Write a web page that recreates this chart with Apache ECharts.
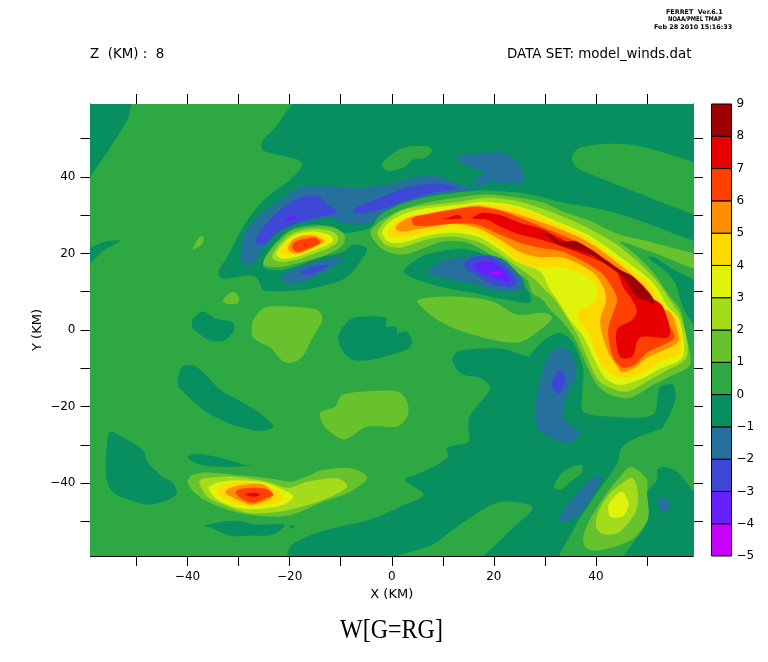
<!DOCTYPE html>
<html><head><meta charset="utf-8">
<style>html,body{margin:0;padding:0;background:#fff}#c{width:768px;height:662px}</style>
<script src="https://cdn.jsdelivr.net/npm/echarts@6/dist/echarts.min.js"></script>
</head><body><div id="c"></div>
<script>
// colour bar
const barLevels = [-5,-4,-3,-2,-1,0,1,2,3,4,5,6,7,8];
const barColors = ['#C800FF','#6420FF','#3F48D6','#25709D','#088F60','#2EA842','#68C22E','#A4DC1C','#DFF40A','#FFD900','#FF8F00','#FF4000','#E80000','#9D0000'];
const xTickValues = [-50,-40,-30,-20,-10,0,10,20,30,40,50];
const yTickValues = [-50,-40,-30,-20,-10,0,10,20,30,40,50];
const labelValues = [-40,-20,0,20,40];

// contour regions, read in km (X, Y); points past +-59 lie outside the plot and are clipped
const domain = [[-90,90],[90,90],[90,-90],[-90,-90]];
const darkNW = [[-65,65],[-50.5,62],[-51,59],[-51.6,55.4],[-53.7,50.5],[-57,44],[-62,36]];
const darkNorth = [[-17,61],[70,70],[70,20],[62,22],[48,28.8],[41.4,31.4],[33.6,33.2],[29.1,34.8],[25.1,35.8],[17.9,36.4],[12.8,35.9],[6.2,34.6],[0.3,32],[-2.8,29.4],[-3.8,27],[-6.8,25.7],[-9.5,25.4],[-11.4,27],[-16,27.5],[-19.9,26.2],[-22.8,22.8],[-24.8,18.9],[-25.1,16.3],[-21.2,15.7],[-14,18.9],[-9.5,20.4],[-7.5,22.3],[-5,21.5],[-5,20.2],[-8.7,13.9],[-14,11.3],[-18.5,10.3],[-25.1,10.3],[-25.7,11.8],[-26.7,13.9],[-29.1,14.1],[-33.2,13.4],[-34,15],[-32.2,19.1],[-29.1,27],[-26.3,32.2],[-23.4,35.8],[-19.9,39.2],[-17.5,43.1],[-18.5,44.5],[-25.1,46.8],[-25.5,48.9],[-23.2,52.3]];
const darkCentre = [[2.3,15.2],[4.2,17.8],[6.9,19.7],[13.4,21.2],[16.7,20.4],[19.9,18.4],[23.2,15],[25.7,11.8],[27.1,9.2],[27.1,7.1],[23.2,7.7],[19.3,8.7],[15.9,9.7],[9.5,11.3],[5,13.1]];
const darkSouth = [[-19.9,-62],[-19.9,-56.6],[-14,-52.7],[-4.2,-49.5],[1.7,-46.1],[6.2,-43],[2.6,-39.1],[6.2,-37],[10.9,-33.3],[10.9,-30.7],[15,-29.2],[15,-24.7],[15.2,-22.6],[19.3,-15.1],[17.3,-12.5],[14,-11.7],[12.4,-9.6],[11.9,-7.2],[13.4,-5.4],[21.6,-4.9],[26.7,-7],[27.1,-6.4],[30,-2.5],[33,-0.7],[35.5,-3.4],[37.5,-10.4],[37.3,-16.4],[37.5,-21.3],[42.2,-22.6],[51.2,-22.1],[52.5,-15.1],[55.1,-14.3],[55.5,-18.2],[53.1,-25.5],[52.2,-26],[46.1,-29.4],[44.7,-31.8],[44.3,-34.6],[42.8,-37.7],[40.2,-42.5],[35.9,-51.4],[32.5,-62],[43,-62],[47.3,-55.5],[50.2,-49.5],[50,-42.5],[52,-39.1],[52,-36.5],[53.1,-35.7],[55.9,-37],[58.8,-41.7],[62,-46],[70,-70]];
const darkEastWedge = [[50.2,18.9],[51.2,19.1],[54.5,16.3],[62,10],[62,-3],[57.8,4],[56.5,7.9],[55.7,11.8],[53.9,15]];
const darkSW1 = [[-55.1,-26.6],[-52.5,-28.1],[-48.8,-31.3],[-47.8,-34.6],[-44.9,-38.3],[-42.8,-39.9],[-42.2,-43],[-47.3,-45.6],[-52.5,-43.8],[-54.7,-42.2],[-55.9,-38.6],[-55.7,-28.6]];
const darkSW2 = [[-40,-33.1],[-38.1,-32.3],[-34.5,-33.1],[-30.6,-34.4],[-29.1,-35.2],[-27.1,-35.4],[-30.2,-35.7],[-34.1,-35.7],[-38.1,-34.9]];
const darkSW3 = [[-36.9,-51.1],[-31,-49.8],[-26.3,-50.8],[-21,-50.8],[-23.2,-53.4],[-27.7,-53.7],[-31.6,-53.7],[-35.5,-51.6]];
const darkSW4 = [[-20.1,-51.1],[-19.1,-51.1],[-19.3,-51.9]];
const darkLong = [[-41,-9.6],[-38.8,-9.3],[-36.9,-11.1],[-33.6,-15.6],[-30.2,-18.2],[-26.3,-21.3],[-23.2,-25.2],[-25.1,-26.3],[-27.7,-26],[-32.2,-24.2],[-36.1,-21.6],[-38.8,-18.7],[-40.8,-16.1],[-41.8,-14.8],[-41.8,-12.2]];
const darkWest = [[-39,2.7],[-37.1,4.8],[-34.5,3],[-31,1.9],[-31,-0.4],[-33,-2.8],[-35.5,-2.8],[-37.5,-1.2],[-39,0.6]];
const darkMid = [[-10.5,-2],[-9.5,0.9],[-7.5,3.2],[-1.1,3.2],[-1.1,0.9],[0.9,0.9],[1.1,-0.7],[3,-0.4],[4,-3.1],[3,-5.1],[-4.2,-7.8],[-7.5,-7.8],[-9.5,-5.7]];
const darkEdge = [[-62,19],[-56.7,22.8],[-53.1,23.3],[-56.1,21],[-62,14.4]];
const greenTop = [[-1.9,43.2],[-0.9,45],[2.3,47.6],[7.1,47.9],[7.9,46.8],[6.6,45],[4.2,44.5],[2.3,42.4],[-0.9,41.6]];
const greenRight = [[35.3,45.2],[36.9,47.6],[44.1,48.6],[51.2,47.1],[63,40.5],[63,29.5],[53.1,33.2],[48,35.9],[40.2,40],[36.3,42.4]];
const greenBottom = [[-3,-61],[8.1,-56],[12,-52.1],[20.6,-45.1],[27.1,-45.6],[27.5,-46.9],[25.1,-50],[14,-62]];
const greenSmall = [[31.8,-40.9],[33.6,-37],[37.1,-35.2],[37.3,-37],[35.5,-39.1],[33,-41.7]];
const lightA = [[-33,7.1],[-32.6,8.7],[-31,10],[-30,8.7],[-30.2,6.9]];
const lightB = [[-27.3,1.9],[-26.1,4.5],[-24.4,6.1],[-14.6,5.3],[-13.6,2.7],[-15.4,-1.7],[-17.3,-6.6],[-18.9,-8.3],[-21.2,-8.3],[-23.8,-4.6],[-27.1,-2]];
const lightC = [[-14,-21.6],[-11.1,-20],[-9.7,-16.9],[-0.9,-15.8],[1.7,-16.4],[3.2,-19.5],[3,-22.6],[1.1,-25.2],[-4.8,-25.2],[-9.1,-28.6],[-11.4,-27.3],[-13.4,-24.7]];
const lightD = [[-39,21],[-38.4,22.8],[-37.5,24.4],[-36.9,24.4],[-36.9,23.1],[-37.5,22]];
const lightE = [[5,7.4],[6.9,8.4],[13.4,8.7],[19.9,7.4],[24.6,4],[30,4.5],[31.4,3.2],[29.6,0.6],[24.6,-3.3],[15.8,-1.2],[9.5,2.2]];
const arc1 = [[-4.2,25.4],[-2.3,28.3],[1.1,30.9],[6.9,33.3],[12.8,34.6],[18.7,35.4],[24.6,34.6],[29.6,33.3],[33.6,30.9],[38.3,28.8],[44.7,24.9],[51.2,22.8],[63,18],[63,14.5],[51.2,20.2],[44.7,23.1],[47.3,20.2],[51.2,15],[54.5,8.7],[56.5,5.3],[57.6,-1.2],[58.4,-9.1],[53.9,-12.5],[51.2,-14.3],[46.7,-17.7],[42.8,-16.9],[40.2,-14.3],[37.9,-8.5],[35.9,-2.5],[33.6,1.9],[31,5.3],[29.5,7.9],[27.5,9.7],[26.5,13.1],[22.6,16.5],[18.7,20.2],[14.8,22.8],[10.1,23.1],[6.9,21.7],[2.3,19.7],[-1.7,21]];
const arc2 = [[-2.8,25.4],[-0.9,28.8],[2.3,31.4],[6.9,32.5],[13.4,33.5],[18.7,34.5],[25.1,33.5],[31.6,30.6],[38.3,26.7],[44.7,21.7],[51.2,13.9],[54.5,7.9],[56.8,2.7],[57.8,-7],[53.1,-11.1],[50.6,-13],[46.1,-16.1],[42.8,-15.1],[40.4,-13],[38.5,-7.8],[36.5,-1.7],[34.3,3.2],[32,7.9],[30,10.5],[28.1,13.1],[24.6,16.5],[20.6,20.2],[16.7,23.1],[11.4,24.4],[6.9,23.6],[1.7,21.5],[-1.3,22.3]];
const arc3 = [[-1.9,25.4],[-0.3,28.3],[3,30.6],[7.5,31.9],[13.4,32.7],[17.9,33.5],[25.1,32.2],[31.6,28.8],[38.3,24.9],[44.7,19.1],[51.2,12.3],[54.1,6.1],[56.3,2.7],[57,-7],[52.2,-10.4],[49.3,-12.5],[44.7,-14.3],[41.8,-12.5],[39.4,-7],[37.5,-1.7],[34.9,2.7],[32.4,7.9],[30.8,11],[29.1,15.2],[24.6,17.8],[20.6,21.5],[16.7,24.4],[11.4,25.4],[6.9,24.6],[2.1,22.8],[-0.7,23.1]];
const arc4 = [[-0.9,25.4],[0.7,28],[3.6,29.8],[8.1,30.9],[13.4,32.2],[17.3,32.7],[25.1,31.7],[31.6,28],[38.3,24.1],[44.7,17.8],[50.6,11.8],[53.1,6.1],[55.9,2.7],[56.5,-5.9],[52.5,-8.3],[49.3,-10.9],[46.1,-12.5],[43.3,-11.7],[40.8,-8.5],[38.8,-1.7],[36.5,3.2],[36.5,4.8],[39.6,7.1],[40.2,11],[38.3,13.9],[33.6,16.3],[28.5,16.3],[25.1,17.8],[20.6,22.8],[16.7,25.4],[12,26.7],[7.5,25.7],[3.6,24.4],[0.3,24.1]];
const arc5 = [[0.7,26.7],[1.9,28.3],[4,29.6],[8.5,30.6],[13.4,31.9],[16.7,32.5],[20.3,31.7],[25.1,30],[31.6,27],[38.3,23.1],[44.7,17],[49.6,11.3],[52.5,6.1],[54.5,4.8],[55.5,1.9],[56.1,-3.1],[52.5,-5.7],[49.3,-7.8],[47.7,-9.8],[45.1,-11.1],[44.3,-9.8],[42.4,-5.9],[40.8,2.2],[42,7.9],[41.4,11.3],[39.4,15],[33.6,18.9],[28.5,19.1],[25.1,20.4],[20.6,24.1],[16.7,26.7],[12,27.8],[8.1,27],[4.6,26.2],[1.7,25.7]];
const arc6 = [[4,29.1],[7.5,30.4],[13.4,31.7],[16.7,32.2],[21.2,31.2],[25.1,29.3],[31.6,25.7],[38.3,21.7],[44.7,15.7],[48.6,10.5],[51,6.1],[53.5,2.7],[55.3,-2],[50,-5.9],[47.7,-9],[45.1,-9.8],[43.3,-7],[42.4,0.1],[44.1,7.9],[43.1,11.3],[40.8,15.2],[33.6,20.4],[29.1,21.5],[25.1,22.8],[21.2,24.9],[16.7,27.5],[12.8,27.8],[4.6,27.2]];
const arc7 = [[15.8,29.1],[17.7,30.6],[21.2,30],[25.1,28],[29.1,26.5],[31.6,24.9],[38.3,20],[44.7,15],[50.6,8.7],[53.1,6.1],[54.3,-1.7],[48.6,-2],[47.1,-7],[44.7,-7],[44.1,0.1],[47.1,2.7],[48,4.8],[47.1,7.9],[45.3,11.3],[44.1,15],[41.4,17.6],[33.6,21.7],[29.1,23.6],[25.1,24.9],[21.2,27],[18.7,28.8]];
const arc7b = [[5.8,29.1],[10.5,29.1],[13,30.1],[13.8,29.1]];
const arc8 = [[28.9,24.9],[31,24.9],[33,23.1],[36.3,23.1],[44.7,15.7],[47.3,13.9],[51,8.7],[51.2,6.6],[50.4,7.4],[48,8.7],[45.3,13.9],[44.1,15.2],[38.8,19.7],[34.9,21.5],[32.4,22.3],[30.6,24.4]];
const blueBand2 = [[-29.6,20.2],[-28.7,25.4],[-26.1,29.6],[-21.8,34],[-17.3,37.4],[-8.7,37.2],[-6.2,36.9],[-0.9,37.9],[5,40],[7.1,40.5],[9.5,40],[13.4,37.9],[16.7,36.9],[12.8,36.1],[6.9,34.8],[2.3,33.2],[-1.7,30.6],[-4.2,28],[-6.8,27.5],[-9.5,28],[-12.6,29.3],[-16,28.3],[-19.9,27.5],[-23.4,24.1],[-25.7,20.2],[-27.1,17.6],[-28.7,17.1],[-29.6,18.4]];
const blueBand3a = [[-26.7,23.1],[-25.1,27],[-21.8,31.4],[-17.9,34.5],[-14.6,35.1],[-12.6,32.7],[-10.7,30.9],[-14.6,29.3],[-19.3,27.5],[-22.4,25.4],[-25.1,22.3]];
const blueBand4 = [[-21,28.8],[-19.3,29.8],[-18.7,29.1],[-20.3,28.5]];
const blueBand3b = [[-7.7,30.9],[-6.2,32.5],[-3.6,33.8],[-0.9,35.3],[3.6,37.4],[9.5,38.2],[13,36.9],[8.1,35.9],[2.3,33.5],[-2.3,31.4],[-6.2,30.4]];
const blueNE = [[12.8,45],[14.8,45.8],[21.8,46.3],[24.6,43.9],[25.7,41.3],[25.7,38.5],[18.7,38.5],[16.9,37.4],[16.3,39.2],[18.3,41.1],[15.4,42.6]];
const blueUnder2 = [[-21.8,13.9],[-20.3,15.2],[-16,17.6],[-9.5,19.1],[-10.1,17.8],[-13.4,15],[-17.9,12.3],[-21.2,12.6]];
const blueUnder3 = [[-17.9,15],[-15.9,16.3],[-12.4,17],[-14.6,15.2],[-16.5,14.4]];
const coreMinus2 = [[7.1,15],[9.5,17.8],[14,18.9],[17.9,19.7],[21.8,18.4],[25.7,13.1],[25.7,10.8],[21.2,10],[16.7,11.8],[9.5,13.9]];
const coreMinus3 = [[14.4,17.8],[16.3,19.1],[19.3,19.1],[22.6,16.3],[24.6,12.6],[23.6,11.3],[19.9,11.8],[15.9,15],[14.4,16.3]];
const coreMinus4 = [[16.3,17],[18.7,18.1],[21.2,16.5],[23.2,13.7],[22.8,12.4],[19.9,13.7],[17.3,15]];
const coreMinus5 = [[19.3,15],[20.6,15.5],[21.6,15],[20.3,14.4]];
const blueSouth2 = [[28.1,-21.6],[28.5,-16.4],[30.6,-7.2],[33,-4.6],[35.3,-6.4],[35.9,-12.2],[34,-18.2],[33.6,-22.9],[36.3,-26],[37.1,-26.8],[34.9,-29.4],[33.4,-29.4],[28.7,-26]];
const blueSouth3 = [[31.4,-13.8],[32.8,-10.4],[34,-12.5],[33.6,-15.1],[32.8,-16.6],[31.6,-15.6]];
const blueStreak = [[32.8,-49.5],[34.9,-44.8],[38.8,-39.1],[40.8,-38],[40.8,-39.6],[37.5,-46.9],[34.9,-49.8]];
const blueDiamond = [[52,-45.1],[53.1,-43.8],[54.5,-45.4],[53.9,-47.4],[52.9,-47.4]];
const seHot1 = [[37.5,-54],[38.8,-49.5],[42.2,-42.5],[44.7,-38.3],[46.7,-35.7],[48.6,-37],[50,-39.1],[50,-42.5],[50.2,-49],[47.7,-54],[44.7,-56.1],[39.8,-57.6],[37.9,-56.6]];
const seHot2 = [[40,-51.4],[40.4,-47.7],[42.8,-42.5],[45.3,-39.9],[47.1,-38.6],[48,-40.9],[48.2,-44.3],[47.7,-47.7],[44.7,-52.7],[42.8,-53.4],[41.2,-53.2]];
const seHot3 = [[42.4,-46.1],[43.1,-44.3],[45.1,-42.2],[46.3,-44.8],[46.3,-46.4],[45.1,-48.7],[42.8,-48.7]];
const swHot1 = [[-40,-39.6],[-39,-37.8],[-36.1,-37.2],[-31,-37.8],[-23.8,-38.8],[-19.9,-39.6],[-17.3,-38.6],[-13.4,-36.5],[-7.5,-36.2],[-4.8,-38.6],[-8.1,-42.2],[-13.4,-44.8],[-20.4,-48.5],[-27.7,-48.2],[-32.2,-46.9],[-36.1,-44.8],[-38.8,-42.2]];
const swHot2 = [[-37.7,-39.9],[-36.9,-38.8],[-31,-38.3],[-24.4,-39.6],[-20.4,-41.2],[-16.5,-39.6],[-10.5,-38.8],[-8.7,-40.9],[-13.4,-44.3],[-19.9,-46.9],[-23.8,-47.7],[-28.3,-47.7],[-32.9,-45.6],[-36.1,-43.5]];
const swHot3 = [[-35.9,-41.2],[-34.1,-39.9],[-31,-39.3],[-25.7,-39.6],[-21.2,-41.7],[-19.3,-43.5],[-21.2,-45.6],[-26.3,-46.7],[-30.2,-46.4],[-34.1,-44.3]];
const swHot4 = [[-34.3,-42],[-32.2,-40.1],[-26.3,-39.9],[-22.4,-42],[-21.2,-43.8],[-22.4,-45.1],[-27.7,-46.1],[-31,-45.1],[-33.2,-43.8]];
const swHot5 = [[-32.6,-42.5],[-31.6,-41.2],[-29.1,-40.4],[-25.1,-40.4],[-23.2,-43],[-25.1,-44.8],[-27.7,-45.6],[-31,-43.8]];
const swHot6 = [[-30.6,-42.5],[-29.3,-41.4],[-24.8,-41.4],[-23.2,-43],[-24.8,-44],[-27.1,-45.1],[-28.7,-44.6]];
const swHot7 = [[-28.7,-43],[-27.1,-42.5],[-25.7,-43],[-27.1,-43.5]];
const nwHot1 = [[-25.1,17],[-24.8,18.9],[-22.8,22.3],[-19.9,25.7],[-15.4,27],[-11.4,26.7],[-9.3,24.9],[-9.5,22.3],[-12.6,19.7],[-17.9,17.6],[-21.2,16.5],[-23.8,16.5]];
const nwHot2 = [[-23.4,18.9],[-22.4,21.7],[-19.5,25.1],[-15.4,26.4],[-11.6,25.7],[-10.5,24.1],[-11.1,22.3],[-14.6,20.2],[-18.5,18.4],[-21.8,17.8]];
const nwHot3 = [[-22.6,19.7],[-21.4,22.3],[-18.9,24.9],[-15.4,25.7],[-12.4,24.9],[-11.4,23.6],[-12.4,22.3],[-15.4,20.7],[-19.3,18.9],[-21.4,18.6]];
const nwHot4 = [[-21.8,20.4],[-20.8,22.3],[-18.5,24.4],[-15.4,25.1],[-13,24.1],[-12.4,23.3],[-15.4,21.5],[-18.5,19.7],[-21.2,19.7]];
const nwHot5 = [[-20.3,21.5],[-19.3,23.6],[-17.3,24.6],[-15,24.6],[-13.4,23.1],[-15.9,21.2],[-18.5,19.9],[-19.9,20.4]];
const nwHot6 = [[-19.5,21.5],[-18.9,23.1],[-15,24.1],[-14,22.8],[-16.5,21.2],[-18.5,20.4]];
const nwHot7 = [[-17.3,22.3],[-16.6,22.3],[-17,22]];

// painter's order: [lower contour level, region]
const regions = [
 [0,domain],[-1,darkNW],[-1,darkNorth],[-1,darkCentre],[-1,darkSouth],[-1,darkEastWedge],
 [-1,darkSW1],[-1,darkSW2],[-1,darkSW3],[-1,darkSW4],[-1,darkLong],[-1,darkWest],[-1,darkMid],[-1,darkEdge],
 [0,greenTop],[0,greenRight],[0,greenBottom],[0,greenSmall],
 [1,lightA],[1,lightB],[1,lightC],[1,lightD],[1,lightE],
 [1,arc1],[2,arc2],[3,arc3],[4,arc4],[5,arc5],[6,arc6],[7,arc7],[7,arc7b],[8,arc8],
 [-2,blueBand2],[-3,blueBand3a],[-4,blueBand4],[-3,blueBand3b],[-2,blueNE],[-2,blueUnder2],[-3,blueUnder3],
 [-2,coreMinus2],[-3,coreMinus3],[-4,coreMinus4],[-5,coreMinus5],
 [-2,blueSouth2],[-3,blueSouth3],[-2,blueStreak],[-2,blueDiamond],
 [1,seHot1],[2,seHot2],[3,seHot3],
 [1,swHot1],[2,swHot2],[3,swHot3],[4,swHot4],[5,swHot5],[6,swHot6],[7,swHot7],
 [1,nwHot1],[2,nwHot2],[3,nwHot3],[4,nwHot4],[5,nwHot5],[6,nwHot6],[7,nwHot7]
];

const FONT = 'DejaVu Sans';
const fmt = v => String(v).replace('-', '\u2212');
const colorOf = l => barColors[barLevels.indexOf(l)];
const line = {show:true,onZero:false,lineStyle:{color:'#000',width:1}};
const tick = vals => ({show:true,length:10,inside:false,customValues:vals,lineStyle:{color:'#000',width:1}});

const chart = echarts.init(document.getElementById('c'),null,{renderer:'canvas'});
chart.setOption({
 animation:false,
 backgroundColor:'#fff',
 grid:[
  {left:90.5,top:104,width:602.5,height:452,containLabel:false},
  {left:711.5,top:104,width:20,height:452}
 ],
 xAxis:[
  {gridIndex:0,type:'value',min:-59,max:59,position:'bottom',axisLine:line,splitLine:{show:false},axisTick:tick(xTickValues),
   axisLabel:{show:true,customValues:labelValues,formatter:fmt,margin:15,color:'#000',fontFamily:FONT,fontSize:12},
   name:'X (KM)',nameLocation:'middle',nameGap:32,nameMoveOverlap:false,nameTextStyle:{color:'#000',fontFamily:FONT,fontSize:13}},
  {gridIndex:0,type:'value',min:-59,max:59,position:'top',axisLine:line,splitLine:{show:false},axisTick:tick(xTickValues),axisLabel:{show:false}},
  {gridIndex:1,type:'value',min:0,max:1,show:false}
 ],
 yAxis:[
  {gridIndex:0,type:'value',min:-59,max:59,position:'left',axisLine:line,splitLine:{show:false},axisTick:tick(yTickValues),
   axisLabel:{show:true,customValues:labelValues,formatter:fmt,margin:15,color:'#000',fontFamily:FONT,fontSize:12},
   name:'Y (KM)',nameLocation:'middle',nameGap:46,nameRotate:90,nameMoveOverlap:false,nameTextStyle:{color:'#000',fontFamily:FONT,fontSize:13}},
  {gridIndex:0,type:'value',min:-59,max:59,position:'right',axisLine:line,splitLine:{show:false},axisTick:tick(yTickValues),axisLabel:{show:false}},
  {gridIndex:1,type:'value',min:-5,max:9,interval:1,position:'right',axisLine:{show:false},axisTick:{show:false},splitLine:{show:false},
   axisLabel:{show:true,formatter:fmt,margin:5,padding:[3,0,0,0],color:'#000',fontFamily:FONT,fontSize:12}}
 ],
 series:[
  {type:'custom',xAxisIndex:0,yAxisIndex:0,clip:true,silent:true,
   data:regions.map((r,i)=>[i]),
   encode:{x:[],y:[]},
   renderItem:(p,api)=>{
     const r = regions[p.dataIndex];
     return {type:'polygon',shape:{points:r[1].map(c=>api.coord(c)),smooth:0.3},style:{fill:colorOf(r[0])}};
   }},
  {type:'custom',xAxisIndex:2,yAxisIndex:2,clip:false,silent:true,
   data:barLevels.map(l=>[l]),
   encode:{x:[],y:[0]},
   renderItem:(p,api)=>{
     const l = barLevels[p.dataIndex];
     const a = api.coord([0,l+1]), b = api.coord([1,l]);
     return {type:'rect',shape:{x:a[0],y:a[1],width:b[0]-a[0],height:b[1]-a[1]},
       style:{fill:colorOf(l),stroke:'#000',lineWidth:1}};
   }}
 ],
 graphic:[
  {type:'text',left:90,top:48,style:{text:'Z  (KM) :  8',font:'13.4px "DejaVu Sans"',fill:'#000'}},
  {type:'text',left:507,top:48,style:{text:'DATA SET: model_winds.dat',font:'13.4px "DejaVu Sans"',fill:'#000'}},
  {type:'text',left:666,top:9,style:{text:'FERRET  Ver.6.1',font:'bold 6.4px "DejaVu Sans"',fill:'#000'}},
  {type:'text',x:668,y:16,scaleX:0.83,style:{text:'NOAA/PMEL TMAP',font:'bold 6.4px "DejaVu Sans"',fill:'#000'}},
  {type:'text',left:654,top:24,style:{text:'Feb 28 2010 15:16:33',font:'bold 6.4px "DejaVu Sans"',fill:'#000'}},
  {type:'text',x:340,y:617,scaleX:0.89,style:{text:'W[G=RG]',font:'27px "Liberation Serif"',fill:'#000'}}
 ]
});
</script></body></html>
